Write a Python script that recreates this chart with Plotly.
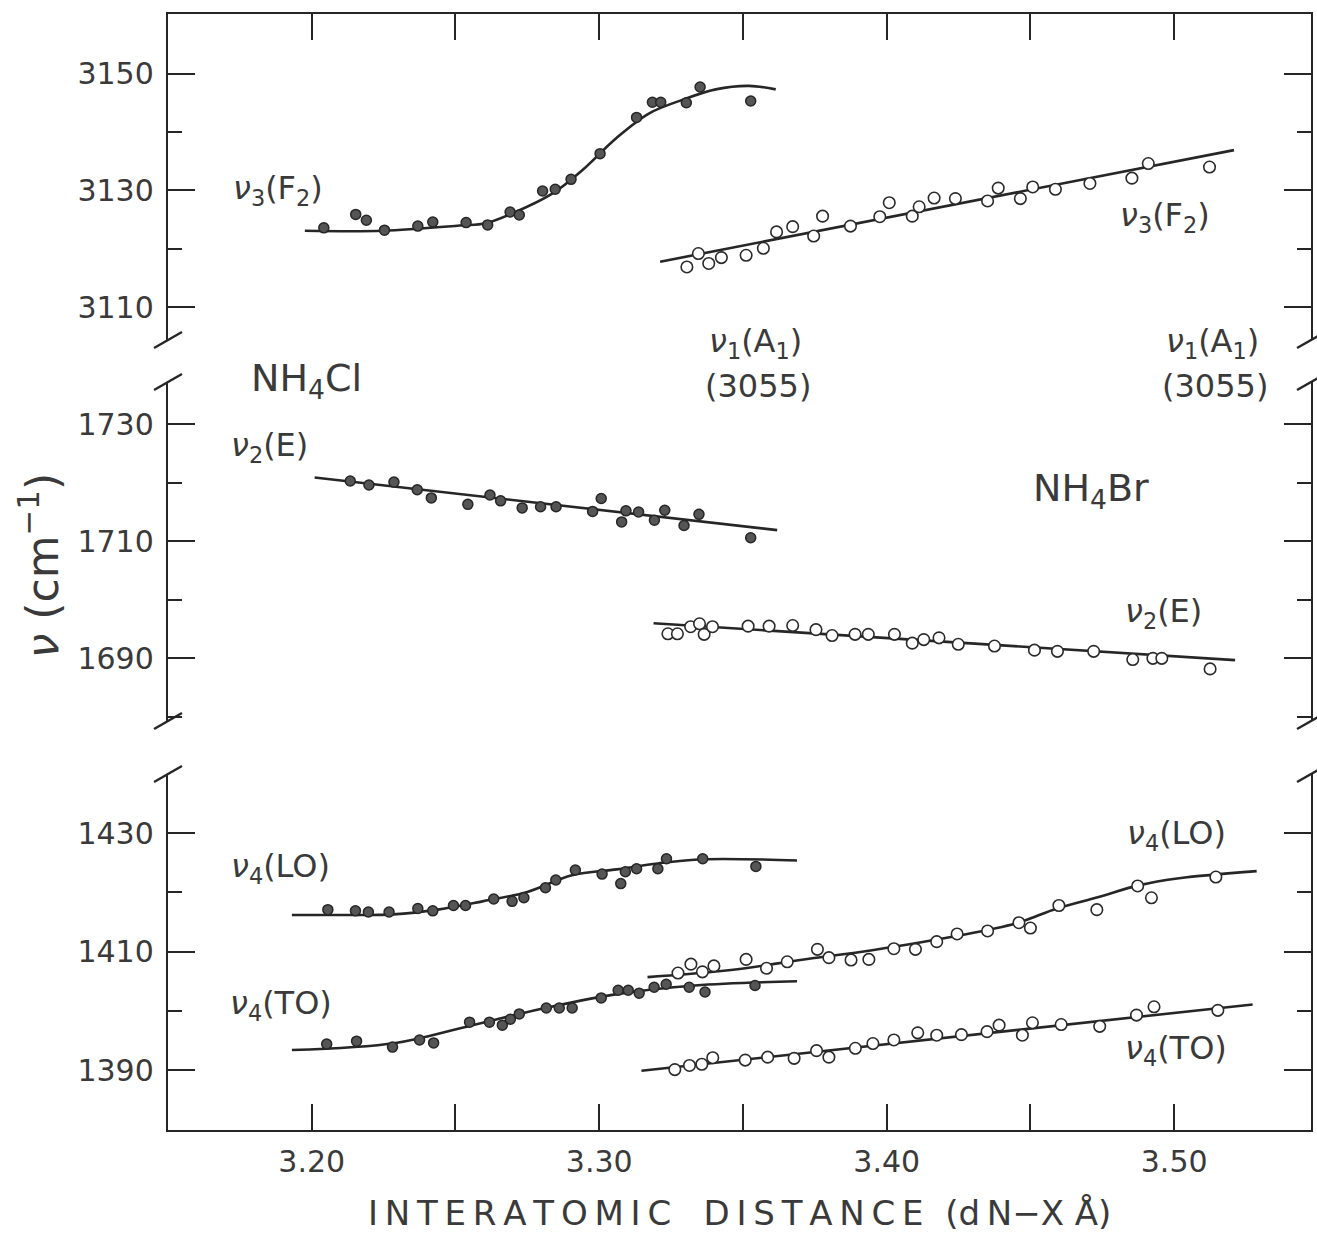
import plotly.graph_objects as go
from plotly.subplots import make_subplots

# ---------------- data ----------------
# Panel 1 : nu3(F2)
cl_v3_x = [3.2042, 3.2153, 3.2190, 3.2253, 3.2369, 3.2421, 3.2537, 3.2612, 3.2690, 3.2722,
           3.2803, 3.2847, 3.2902, 3.3003, 3.3130, 3.3185, 3.3214, 3.3303, 3.3351, 3.3527]
cl_v3_y = [3123.6, 3125.9, 3124.9, 3123.2, 3123.9, 3124.6, 3124.5, 3124.1, 3126.3, 3125.8,
           3129.9, 3130.2, 3131.9, 3136.3, 3142.5, 3145.1, 3145.1, 3145.0, 3147.7, 3145.3]
cl_v3_fit_x = [3.1976, 3.2248, 3.2514, 3.2606, 3.2699, 3.2838, 3.2942, 3.3058, 3.3174,
               3.3289, 3.3405, 3.3521, 3.3614]
cl_v3_fit_y = [3123.1, 3123.1, 3124.0, 3124.4, 3126.1, 3129.5, 3133.5, 3138.9, 3143.2,
               3145.5, 3147.3, 3147.9, 3147.3]

br_v3_x = [3.3305, 3.3345, 3.3381, 3.3425, 3.3511, 3.3571, 3.3617, 3.3673, 3.3746, 3.3777,
           3.3874, 3.3976, 3.4009, 3.4089, 3.4113, 3.4165, 3.4239, 3.4351, 3.4388, 3.4465,
           3.4508, 3.4587, 3.4707, 3.4853, 3.4910, 3.5123]
br_v3_y = [3116.9, 3119.2, 3117.5, 3118.5, 3118.9, 3120.1, 3122.9, 3123.8, 3122.2, 3125.6,
           3123.9, 3125.5, 3127.9, 3125.6, 3127.2, 3128.7, 3128.6, 3128.2, 3130.4, 3128.6,
           3130.6, 3130.2, 3131.2, 3132.1, 3134.6, 3134.0]
br_v3_fit_x = [3.3212, 3.5208]
br_v3_fit_y = [3117.8, 3136.9]

# Panel 2 : nu2(E)
cl_v2_x = [3.2134, 3.2199, 3.2286, 3.2367, 3.2416, 3.2543, 3.2620, 3.2657, 3.2732, 3.2796,
           3.2850, 3.2977, 3.3007, 3.3078, 3.3093, 3.3137, 3.3192, 3.3228, 3.3295, 3.3347, 3.3527]
cl_v2_y = [1720.3, 1719.6, 1720.1, 1718.8, 1717.4, 1716.3, 1717.9, 1716.9, 1715.7, 1715.9,
           1715.9, 1715.1, 1717.3, 1713.3, 1715.2, 1715.0, 1713.6, 1715.3, 1712.7, 1714.6, 1710.6]
cl_v2_fit_x = [3.2010, 3.3619]
cl_v2_fit_y = [1720.9, 1711.9]

br_v2_x = [3.3239, 3.3272, 3.3318, 3.3349, 3.3365, 3.3394, 3.3518, 3.3591, 3.3673, 3.3754,
           3.3810, 3.3890, 3.3936, 3.4027, 3.4089, 3.4129, 3.4182, 3.4249, 3.4375, 3.4514,
           3.4594, 3.4720, 3.4856, 3.4926, 3.4957, 3.5125]
br_v2_y = [1694.2, 1694.2, 1695.4, 1695.9, 1694.1, 1695.4, 1695.5, 1695.5, 1695.6, 1694.9,
           1693.9, 1694.1, 1694.1, 1694.1, 1692.6, 1693.2, 1693.5, 1692.4, 1692.1, 1691.4,
           1691.2, 1691.2, 1689.8, 1690.0, 1690.0, 1688.2]
br_v2_fit_x = [3.3189, 3.5212]
br_v2_fit_y = [1696.0, 1689.7]

# Panel 3 : nu4(LO), nu4(TO)
cl_lo_x = [3.2056, 3.2152, 3.2197, 3.2269, 3.2369, 3.2421, 3.2493, 3.2535, 3.2633, 3.2697,
           3.2738, 3.2813, 3.2849, 3.2917, 3.3010, 3.3075, 3.3091, 3.3130, 3.3204, 3.3234,
           3.3360, 3.3545]
cl_lo_y = [1417.1, 1416.9, 1416.7, 1416.7, 1417.3, 1416.9, 1417.8, 1417.8, 1418.9, 1418.5,
           1419.1, 1420.8, 1422.1, 1423.8, 1423.1, 1421.5, 1423.5, 1424.0, 1424.0, 1425.7,
           1425.7, 1424.4]
cl_lo_fit_x = [3.1931, 3.2128, 3.2283, 3.2439, 3.2594, 3.2750, 3.2905, 3.3061, 3.3204, 3.3360, 3.3688]
cl_lo_fit_y = [1416.2, 1416.2, 1416.3, 1417.1, 1418.5, 1420.1, 1422.9, 1423.9, 1424.9, 1425.6, 1425.4]

cl_to_x = [3.2052, 3.2156, 3.2281, 3.2375, 3.2424, 3.2549, 3.2618, 3.2663, 3.2691, 3.2722,
           3.2816, 3.2861, 3.2906, 3.3007, 3.3066, 3.3101, 3.3139, 3.3191, 3.3233, 3.3313,
           3.3368, 3.3542]
cl_to_y = [1394.4, 1394.9, 1393.9, 1395.1, 1394.6, 1398.1, 1398.1, 1397.6, 1398.6, 1399.5,
           1400.5, 1400.5, 1400.5, 1402.2, 1403.5, 1403.5, 1403.0, 1404.0, 1404.5, 1404.0,
           1403.2, 1404.3]
cl_to_fit_x = [3.1931, 3.2292, 3.2535, 3.2813, 3.3056, 3.3333, 3.3688]
cl_to_fit_y = [1393.4, 1394.6, 1397.3, 1400.5, 1402.8, 1404.3, 1405.0]

br_lo_x = [3.3274, 3.3319, 3.3359, 3.3399, 3.3511, 3.3582, 3.3654, 3.3759, 3.3799, 3.3876,
           3.3938, 3.4025, 3.4100, 3.4174, 3.4245, 3.4351, 3.4460, 3.4500, 3.4599, 3.4731,
           3.4873, 3.4921, 3.5145]
br_lo_y = [1406.4, 1407.9, 1406.6, 1407.6, 1408.7, 1407.2, 1408.3, 1410.4, 1409.0, 1408.6,
           1408.7, 1410.5, 1410.4, 1411.7, 1413.0, 1413.5, 1414.9, 1414.0, 1417.8, 1417.1,
           1421.1, 1419.1, 1422.6]
br_lo_fit_x = [3.3168, 3.3458, 3.3699, 3.3955, 3.4238, 3.4451, 3.4592, 3.4734, 3.4876, 3.5017, 3.5287]
br_lo_fit_y = [1405.7, 1406.9, 1408.6, 1410.3, 1412.6, 1414.8, 1417.3, 1419.2, 1421.2, 1422.4, 1423.6]

br_to_x = [3.3263, 3.3314, 3.3357, 3.3395, 3.3508, 3.3586, 3.3678, 3.3756, 3.3799, 3.3891,
           3.3952, 3.4025, 3.4108, 3.4174, 3.4260, 3.4349, 3.4391, 3.4472, 3.4507, 3.4607,
           3.4741, 3.4869, 3.4930, 3.5152]
br_to_y = [1390.1, 1390.8, 1391.0, 1392.1, 1391.7, 1392.2, 1392.0, 1393.3, 1392.2, 1393.7,
           1394.5, 1395.1, 1396.3, 1395.9, 1396.0, 1396.5, 1397.6, 1395.9, 1398.0, 1397.7,
           1397.4, 1399.3, 1400.7, 1400.1]
br_to_fit_x = [3.3147, 3.5273]
br_to_fit_y = [1389.9, 1401.1]

x_ticks = [3.20, 3.30, 3.40, 3.50]
x_tick_text = ["3.20", "3.30", "3.40", "3.50"]
x_minor = [3.25, 3.35, 3.45]
p1_ticks, p1_minor = [3110, 3130, 3150], [3120, 3140]
p2_ticks, p2_minor = [1690, 1710, 1730], [1680, 1700, 1720]
p3_ticks, p3_minor = [1390, 1410, 1430], [1380, 1400, 1420]

# ---------------- figure ----------------
INK = "#262626"
TXT = "#3a3a3a"
FONT = "DejaVu Sans"

fig = make_subplots(rows=3, cols=1)

def fit(x, y, row, spline=False):
    fig.add_trace(go.Scatter(x=x, y=y, mode="lines",
                             line=dict(color=INK, width=2.6,
                                       shape="spline" if spline else "linear", smoothing=1.0),
                             hoverinfo="skip", showlegend=False), row=row, col=1)

def pts(x, y, row, filled):
    if filled:
        m = dict(size=10, color="#555555", line=dict(color="#262626", width=1.5))
    else:
        m = dict(size=11.5, color="white", line=dict(color="#2a2a2a", width=1.6))
    fig.add_trace(go.Scatter(x=x, y=y, mode="markers", marker=m, showlegend=False,
                             cliponaxis=False), row=row, col=1)

fit(cl_v3_fit_x, cl_v3_fit_y, 1, spline=True)
fit(br_v3_fit_x, br_v3_fit_y, 1)
pts(cl_v3_x, cl_v3_y, 1, True)
pts(br_v3_x, br_v3_y, 1, False)

fit(cl_v2_fit_x, cl_v2_fit_y, 2)
fit(br_v2_fit_x, br_v2_fit_y, 2)
pts(cl_v2_x, cl_v2_y, 2, True)
pts(br_v2_x, br_v2_y, 2, False)

fit(cl_lo_fit_x, cl_lo_fit_y, 3, spline=True)
fit(cl_to_fit_x, cl_to_fit_y, 3, spline=True)
fit(br_lo_fit_x, br_lo_fit_y, 3, spline=True)
fit(br_to_fit_x, br_to_fit_y, 3)
pts(cl_lo_x, cl_lo_y, 3, True)
pts(cl_to_x, cl_to_y, 3, True)
pts(br_lo_x, br_lo_y, 3, False)
pts(br_to_x, br_to_y, 3, False)

XR = [3.15, 3.5476]
common_x = dict(range=XR, showgrid=False, zeroline=False, showline=True, linecolor=INK,
                linewidth=2.4, ticks="inside", ticklen=26, tickwidth=2, tickcolor=INK,
                tickvals=x_ticks, ticktext=x_tick_text,
                minor=dict(tickvals=x_minor, ticks="inside", ticklen=26, tickwidth=2, tickcolor=INK))
fig.update_layout(
    xaxis=dict(common_x, side="top", showticklabels=False),
    xaxis2=dict(range=XR, visible=False),
    xaxis3=dict(common_x, side="bottom", showticklabels=True,
                tickfont=dict(family=FONT, size=30, color=TXT), ticklabelstandoff=4),
)

def yax(rng, dom, ticks, minor):
    return dict(range=rng, domain=dom, showgrid=False, zeroline=False, showline=True,
                linecolor=INK, linewidth=2.4, mirror="ticks", ticks="inside", ticklen=27,
                tickwidth=2, tickcolor=INK, tickvals=ticks, ticktext=[str(t) for t in ticks],
                tickfont=dict(family=FONT, size=30, color=TXT), ticklabelstandoff=6,
                minor=dict(tickvals=minor, ticks="inside", ticklen=14, tickwidth=2, tickcolor=INK))

W, H = 1317, 1240
L, R, T, B = 168, 1313, 14, 1130
def py(p):  # pixel row -> paper y
    return (B - p) / (B - T)
def px(p):  # pixel col -> paper x
    return (p - L) / (R - L)

fig.update_layout(
    yaxis=yax([3104.4, 3160.2], [py(340), 1.0], p1_ticks, p1_minor),
    yaxis2=yax([1679.3, 1737.2], [py(721), py(382)], p2_ticks, p2_minor),
    yaxis3=yax([1379.9, 1440.0], [0.0, py(774)], p3_ticks, p3_minor),
)

# axis-break marks
shapes = []
for c in [340, 382, 721, 774]:
    for x0, x1 in [(154, 182), (1299, 1327)]:
        shapes.append(dict(type="line", xref="paper", yref="paper",
                           x0=px(x0), x1=px(x1), y0=py(c + 8), y1=py(c - 8),
                           line=dict(color=INK, width=2.4)))

NU = "<i>ν</i>"
def ann(text, x, y, xref, yref, size=32, **kw):
    return dict(text=text, x=x, y=y, xref=xref, yref=yref, showarrow=False,
                font=dict(family=FONT, size=size, color=TXT),
                xanchor="center", yanchor="middle", **kw)

TS = "\u2009"
title_x = TS.join("INTERATOMIC") + "   " + TS.join("DISTANCE") + "  (d" + TS + "N−X Å)"

annotations = [
    ann(NU + "<sub>3</sub>(F<sub>2</sub>)", 3.1882, 3130.1, "x", "y"),
    ann(NU + "<sub>3</sub>(F<sub>2</sub>)", 3.4969, 3125.5, "x", "y"),
    ann(NU + "<sub>1</sub>(A<sub>1</sub>)", 3.3545, py(343), "x", "paper"),
    ann("(3055)", 3.3552, py(386), "x", "paper"),
    ann(NU + "<sub>1</sub>(A<sub>1</sub>)", 3.5135, py(343), "x", "paper"),
    ann("(3055)", 3.5142, py(386), "x", "paper"),
    ann("NH<sub>4</sub>Cl", 3.1983, py(380), "x", "paper", size=38),
    ann(NU + "<sub>2</sub>(E)", 3.1854, 1726.1, "x2", "y2"),
    ann("NH<sub>4</sub>Br", 3.4712, 1718.7, "x2", "y2", size=38),
    ann(NU + "<sub>2</sub>(E)", 3.4962, 1697.8, "x2", "y2"),
    ann(NU + "<sub>4</sub>(LO)", 3.1892, 1424.1, "x3", "y3"),
    ann(NU + "<sub>4</sub>(TO)", 3.1892, 1401.0, "x3", "y3"),
    ann(NU + "<sub>4</sub>(LO)", 3.5007, 1429.7, "x3", "y3"),
    ann(NU + "<sub>4</sub>(TO)", 3.5007, 1393.4, "x3", "y3"),
    ann(NU + " (cm<sup>−1</sup>)", px(38), py(566), "paper", "paper", size=44, textangle=-90),
    ann(title_x, px(740), py(1213), "paper", "paper", size=34),
]

fig.update_layout(
    width=W, height=H,
    margin=dict(l=L, r=W - R, t=T, b=H - B),
    paper_bgcolor="white", plot_bgcolor="white",
    shapes=shapes, annotations=annotations, showlegend=False,
)

fig.write_html("out.html")
